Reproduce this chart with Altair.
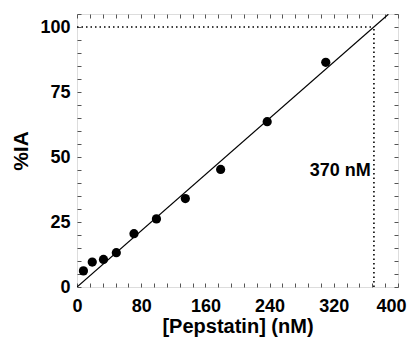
import altair as alt
import pandas as pd

# data
pep_nM = [8, 19, 33, 49, 71, 99, 135, 179, 237, 310]
pct_IA = [6.2, 9.6, 10.6, 13.2, 20.5, 26.2, 34.0, 45.2, 63.6, 86.4]
fit_x = [0, 388]
fit_y = [0, 104.9]
ic_x = 370
ic_y = 100
x_ticks = [0, 80, 160, 240, 320, 400]
y_ticks = [0, 25, 50, 75, 100]
x_minor = list(range(0, 401, 16))
y_minor = list(range(0, 106, 5))
label_text = "370 nM"

pts = pd.DataFrame({"x": pep_nM, "y": pct_IA})
fit = pd.DataFrame({"x": fit_x, "y": fit_y})
hline = pd.DataFrame({"x": [0], "x2": [ic_x], "y": [ic_y]})
vline = pd.DataFrame({"x": [ic_x], "y": [0], "y2": [ic_y]})
lab = pd.DataFrame({"x": [ic_x - 4], "y": [44.5], "t": [label_text]})

W, H = 321, 273
FONT = "Liberation Sans"
xs = alt.Scale(domain=[0, 400], nice=False, zero=False)
ys = alt.Scale(domain=[0, 105], nice=False, zero=False)

points = alt.Chart(pts).mark_circle(size=85, color="black", opacity=1).encode(
    x=alt.X("x:Q", scale=xs, title="[Pepstatin] (nM)",
            axis=alt.Axis(values=x_ticks, tickSize=0, labelPadding=10, domain=False,
                          labelFontSize=18, labelFont=FONT, labelFontWeight="bold",
                          labelColor="black", titleFontSize=20, titleFont=FONT,
                          titleFontWeight="bold", titleColor="black", titlePadding=1,
                          grid=False, labelFlush=False,
                          labelOffset=alt.ExprRef(expr="datum.value >= 400 ? -7 : 0"))),
    y=alt.Y("y:Q", scale=ys, title="%IA",
            axis=alt.Axis(values=y_ticks, tickSize=0, labelPadding=7, domain=False,
                          labelFontSize=18, labelFont=FONT, labelFontWeight="bold",
                          labelColor="black", titleFontSize=21, titleFont=FONT,
                          titleFontWeight="bold", titleColor="black", titlePadding=8,
                          grid=False)),
)

tick_style = dict(labels=False, domain=False, grid=False, tickSize=4,
                  tickColor="#555", tickWidth=1, title=None)

line = alt.Chart(fit).mark_line(color="black", strokeWidth=1.2, clip=True).encode(
    x=alt.X("x:Q", scale=xs, axis=alt.Axis(orient="top", offset=-H, values=x_minor, **tick_style)),
    y=alt.Y("y:Q", scale=ys, axis=alt.Axis(orient="right", offset=-W, values=y_minor, **tick_style)),
)

hrule = alt.Chart(hline).mark_rule(color="black", strokeWidth=1.6, strokeDash=[1.5, 3]).encode(
    x=alt.X("x:Q", scale=xs, axis=alt.Axis(orient="bottom", offset=-H, values=x_minor, **tick_style)),
    x2="x2:Q",
    y=alt.Y("y:Q", scale=ys, axis=alt.Axis(orient="left", offset=-W, values=y_minor, **tick_style)),
)

vrule = alt.Chart(vline).mark_rule(color="black", strokeWidth=1.6, strokeDash=[1.5, 3]).encode(
    x=alt.X("x:Q", scale=xs, axis=None),
    y=alt.Y("y:Q", scale=ys, axis=None),
    y2="y2:Q",
)

text = alt.Chart(lab).mark_text(align="right", baseline="middle", fontSize=18,
                                font=FONT, fontWeight="bold", color="black").encode(
    x=alt.X("x:Q", scale=xs, axis=None),
    y=alt.Y("y:Q", scale=ys, axis=None),
    text="t:N",
)

chart = alt.layer(hrule, vrule, line, points, text).resolve_axis(
    x="independent", y="independent"
).properties(
    width=W, height=H,
    autosize=alt.AutoSizeParams(type="none"),
    padding={"left": 69, "top": 6, "right": 9, "bottom": 50},
).configure_view(stroke="#333", strokeWidth=1.2).configure(background="white")

chart.save("out.html", embed_options={"renderer": "svg", "actions": False})
